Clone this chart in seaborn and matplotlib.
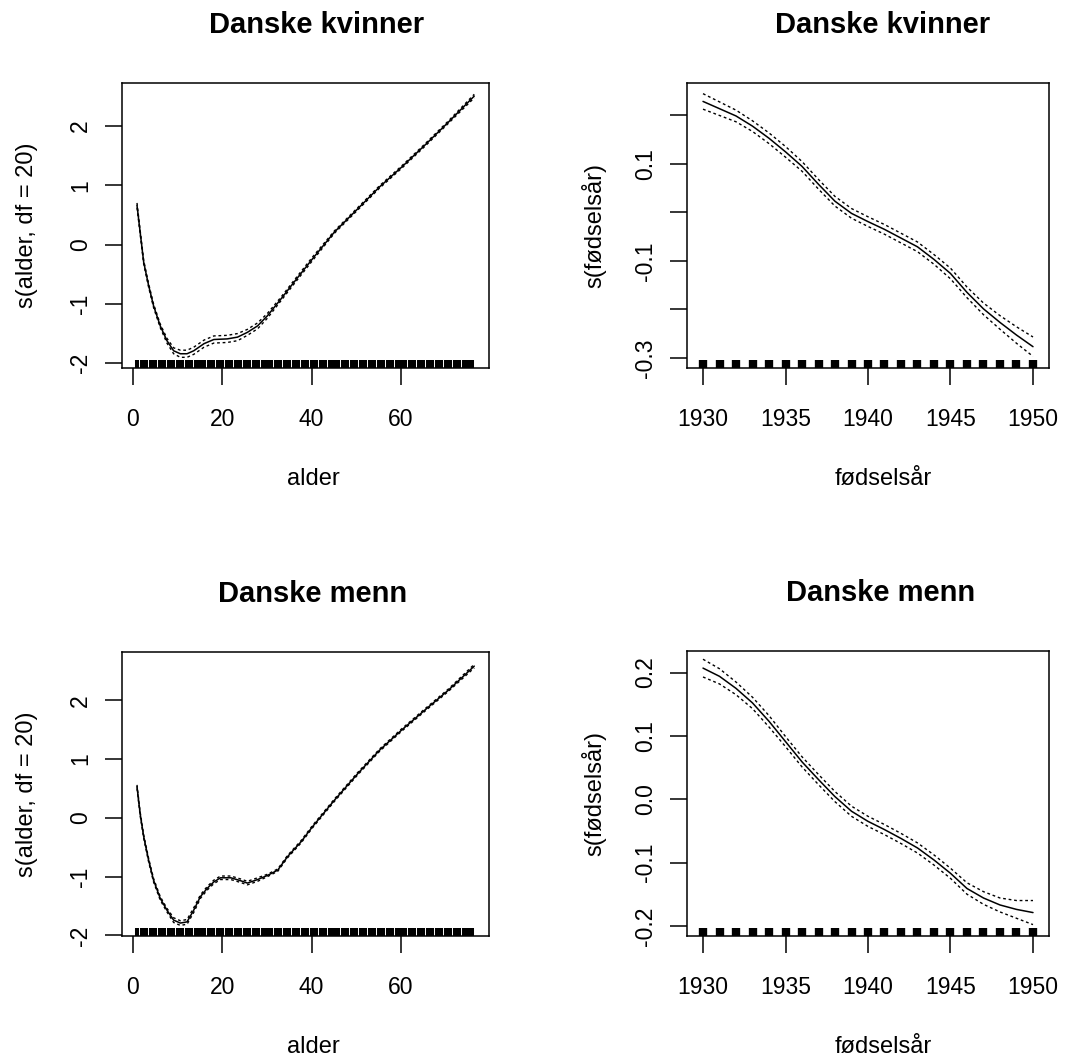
import matplotlib
matplotlib.use("Agg")
import matplotlib.pyplot as plt
import numpy as np
import seaborn as sns

sns.set_theme(style="white")
plt.rcParams["font.family"] = ["Liberation Sans", "DejaVu Sans"]

# ---------------- data ----------------
title_women = "Danske kvinner"
title_men = "Danske menn"
xlabel_age = "alder"
xlabel_year = "fødselsår"
ylabel_age = "s(alder, df = 20)"
ylabel_year = "s(fødselsår)"

# Women, age effect
age_w = [0.9, 1.6, 2.4, 3.5, 4.6, 6.1, 7.6, 9.1, 10.6, 12.1, 13.6, 15.9, 18.1, 21.1,
         23.4, 25.6, 27.9, 30.1, 33.1, 36.1, 40.2, 45.1, 50.3, 55.2, 60.1, 65.3, 70.6, 76.4]
fit_age_w = [0.66, 0.21, -0.30, -0.69, -1.03, -1.37, -1.62, -1.79, -1.84, -1.84, -1.79,
             -1.67, -1.60, -1.59, -1.56, -1.48, -1.37, -1.20, -0.92, -0.63, -0.24, 0.21,
             0.60, 0.97, 1.30, 1.67, 2.06, 2.50]
se_age_w = [0.04, 0.03, 0.03, 0.03, 0.03, 0.03, 0.04, 0.05, 0.06, 0.06, 0.06, 0.06, 0.06,
            0.06, 0.06, 0.05, 0.05, 0.04, 0.03, 0.03, 0.03, 0.02, 0.02, 0.02, 0.02, 0.02,
            0.02, 0.03]

# Men, age effect
age_m = [0.9, 1.6, 2.4, 3.5, 4.6, 6.1, 7.6, 9.1, 10.6, 12.1, 13.6, 15.1, 16.6, 18.1, 19.6,
         21.9, 24.1, 25.6, 27.9, 30.1, 32.4, 34.6, 37.6, 40.2, 45.1, 50.3, 55.2, 60.1,
         65.3, 70.6, 76.4]
fit_age_m = [0.53, 0.07, -0.32, -0.72, -1.06, -1.37, -1.57, -1.74, -1.79, -1.77, -1.57,
             -1.34, -1.20, -1.09, -1.02, -1.02, -1.07, -1.11, -1.05, -0.98, -0.89, -0.66,
             -0.41, -0.15, 0.30, 0.75, 1.15, 1.49, 1.83, 2.17, 2.58]
se_age_m = [0.03, 0.03, 0.03, 0.03, 0.03, 0.03, 0.03, 0.04, 0.04, 0.04, 0.04, 0.03, 0.03,
            0.03, 0.03, 0.03, 0.03, 0.03, 0.03, 0.02, 0.02, 0.02, 0.02, 0.02, 0.02, 0.02,
            0.02, 0.02, 0.02, 0.02, 0.03]

# Birth-year effect
years = [1930, 1931, 1932, 1933, 1934, 1935, 1936, 1937, 1938, 1939, 1940,
         1941, 1942, 1943, 1944, 1945, 1946, 1947, 1948, 1949, 1950]
fit_year_w = [0.229, 0.214, 0.199, 0.178, 0.153, 0.125, 0.095, 0.058, 0.023, -0.002,
              -0.019, -0.035, -0.053, -0.071, -0.097, -0.126, -0.165, -0.199, -0.227,
              -0.253, -0.277]
se_year_w = [0.016, 0.014, 0.012, 0.011, 0.011, 0.011, 0.010, 0.010, 0.010, 0.010, 0.010,
             0.010, 0.010, 0.010, 0.010, 0.011, 0.011, 0.012, 0.014, 0.017, 0.020]
fit_year_m = [0.207, 0.194, 0.175, 0.152, 0.123, 0.091, 0.059, 0.031, 0.004, -0.019,
              -0.035, -0.048, -0.062, -0.077, -0.096, -0.117, -0.141, -0.156, -0.167,
              -0.174, -0.179]
se_year_m = [0.014, 0.012, 0.010, 0.009, 0.009, 0.008, 0.008, 0.008, 0.008, 0.008, 0.008,
             0.008, 0.008, 0.008, 0.008, 0.008, 0.009, 0.010, 0.011, 0.014, 0.019]

rug_ages = list(range(1, 77))
rug_years = years

age_xticks = [0, 20, 40, 60]
year_xticks = [1930, 1935, 1940, 1945, 1950]
age_yticks = [-2, -1, 0, 1, 2]
age_ylabels = ["-2", "-1", "0", "1", "2"]
yw_yticks = [-0.3, -0.2, -0.1, 0.0, 0.1, 0.2]
yw_ylabels = ["-0.3", "", "-0.1", "", "0.1", ""]
ym_yticks = [-0.2, -0.1, 0.0, 0.1, 0.2]
ym_ylabels = ["-0.2", "-0.1", "0.0", "0.1", "0.2"]

# ---------------- figure ----------------
W, H = 1086, 1063
fig = plt.figure(figsize=(W / 100, H / 100), dpi=100)


def add_ax(l, t, r, b):
    return fig.add_axes([l / W, 1 - b / H, (r - l) / W, (b - t) / H])


def panel(ax, x, fit, se, rug, rug_lw, xlim, ylim, xticks, yticks, ylabels,
          title, title_x, xlabel, xlabel_x, ylabel, ylabel_x):
    x = np.asarray(x, float)
    fit = np.asarray(fit, float)
    se = np.asarray(se, float)
    sns.rugplot(x=rug, ax=ax, height=0.029, color="black", linewidth=rug_lw,
                expand_margins=False)
    sns.lineplot(x=x, y=fit, ax=ax, color="black", linewidth=1.1,
                 estimator=None, sort=False)
    for band in (fit + se, fit - se):
        sns.lineplot(x=x, y=band, ax=ax, color="black", linewidth=1.0,
                     linestyle=(0, (2, 2)), estimator=None, sort=False)
    ax.set_xlim(*xlim)
    ax.set_ylim(*ylim)
    ax.set_xticks(xticks)
    ax.set_xticklabels([str(t) for t in xticks])
    ax.set_yticks(yticks)
    ax.set_yticklabels(ylabels, rotation=90, va="center")
    ax.tick_params(axis="both", direction="out", length=12, width=1.1,
                   color="black", labelcolor="black", labelsize=16.5,
                   bottom=True, left=True)
    ax.tick_params(axis="x", pad=17)
    ax.tick_params(axis="y", pad=9.5)
    for sp in ax.spines.values():
        sp.set_visible(True)
        sp.set_color("black")
        sp.set_linewidth(1.1)
    ax.set_title(title, fontsize=21, fontweight="bold", x=title_x, y=1.175,
                 pad=0, va="baseline", color="black")
    ax.set_xlabel(xlabel, fontsize=17, color="black")
    ax.set_ylabel(ylabel, fontsize=17, color="black")
    ax.xaxis.set_label_coords(xlabel_x, -0.352)
    ax.yaxis.set_label_coords(ylabel_x, 0.5)
    ax.grid(False)


ax1 = add_ax(122, 83, 489, 368)
panel(ax1, age_w, fit_age_w, se_age_w, rug_ages, 2.9, (-2.46, 79.7), (-2.08, 2.72),
      age_xticks, age_yticks, age_ylabels, title_women, 0.53, xlabel_age, 0.522,
      ylabel_age, -0.229)

ax2 = add_ax(687, 83, 1049, 368)
panel(ax2, years, fit_year_w, se_year_w, rug_years, 6.0, (1929.03, 1950.97),
      (-0.321, 0.267), year_xticks, yw_yticks, yw_ylabels, title_women, 0.539,
      xlabel_year, 0.541, ylabel_year, -0.2215)

ax3 = add_ax(122, 652, 489, 936)
panel(ax3, age_m, fit_age_m, se_age_m, rug_ages, 2.9, (-2.46, 79.7), (-2.01, 2.82),
      age_xticks, age_yticks, age_ylabels, title_men, 0.518, xlabel_age, 0.522,
      ylabel_age, -0.229)

ax4 = add_ax(687, 651, 1049, 936)
panel(ax4, years, fit_year_m, se_year_m, rug_years, 6.0, (1929.03, 1950.97),
      (-0.216, 0.234), year_xticks, ym_yticks, ym_ylabels, title_men, 0.536,
      xlabel_year, 0.541, ylabel_year, -0.2215)

fig.savefig("out.png", dpi=100, facecolor="white")
